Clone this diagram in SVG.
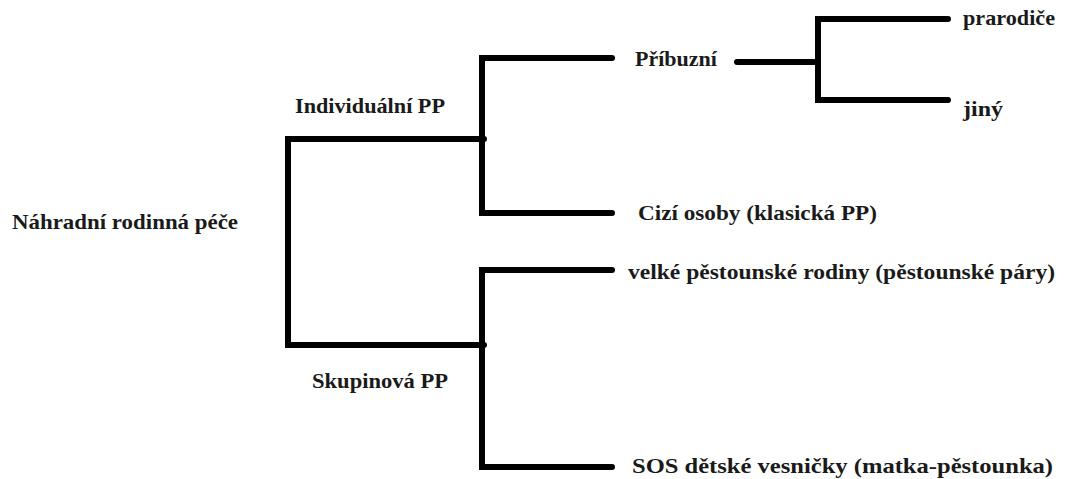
<svg xmlns="http://www.w3.org/2000/svg" width="1066" height="479" viewBox="0 0 1066 479">
<style>
.t{font-family:"Liberation Serif","Times New Roman",serif;font-weight:bold;font-size:22px;fill:#1a1a1a}
.c{fill:none;stroke:#000;stroke-width:6;stroke-linejoin:miter;stroke-linecap:round}
</style>
<rect width="1066" height="479" fill="#fff"/>
<g id="connectors">
<path class="c" d="M484,139 H288 V345 H484"/>
<path class="c" d="M612,58 H482 V213 H612"/>
<path class="c" d="M612,270 H482 V467 H612"/>
<path class="c" d="M737,62 H818"/>
<path class="c" d="M948,19 H818 V100 H948"/>
</g>
<g id="n-root"><text class="t" x="12" y="229" textLength="226" lengthAdjust="spacingAndGlyphs">Náhradní rodinná péče</text></g>
<g id="n-individual"><text class="t" x="295" y="113" textLength="150" lengthAdjust="spacingAndGlyphs">Individuální PP</text></g>
<g id="n-skupinova"><text class="t" x="312" y="388" textLength="136" lengthAdjust="spacingAndGlyphs">Skupinová PP</text></g>
<g id="n-pribuzni"><text class="t" x="635" y="66" textLength="82" lengthAdjust="spacingAndGlyphs">Příbuzní</text></g>
<g id="n-cizi"><text class="t" x="638" y="220" textLength="239" lengthAdjust="spacingAndGlyphs">Cizí osoby (klasická PP)</text></g>
<g id="n-velke"><text class="t" x="628" y="279" textLength="427" lengthAdjust="spacingAndGlyphs">velké pěstounské rodiny (pěstounské páry)</text></g>
<g id="n-sos"><text class="t" x="632" y="473" textLength="421" lengthAdjust="spacingAndGlyphs">SOS dětské vesničky (matka-pěstounka)</text></g>
<g id="n-prarodice"><text class="t" x="963" y="25" textLength="92" lengthAdjust="spacingAndGlyphs">prarodiče</text></g>
<g id="n-jiny"><text class="t" x="963" y="116" textLength="40" lengthAdjust="spacingAndGlyphs">jiný</text></g>
</svg>
